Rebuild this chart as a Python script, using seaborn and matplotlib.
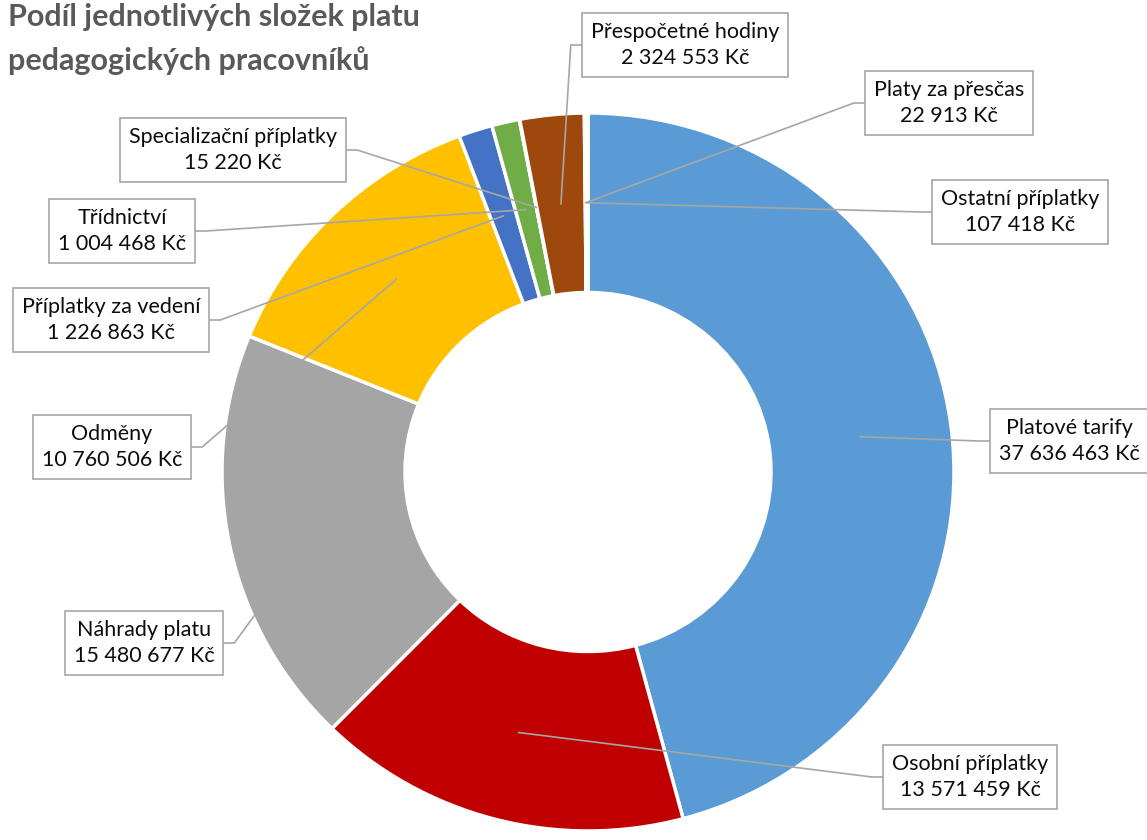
import numpy as np
import matplotlib
matplotlib.use("Agg")
import matplotlib.pyplot as plt
import seaborn as sns

categories = ["Platové tarify", "Osobní příplatky", "Náhrady platu", "Odměny",
              "Příplatky za vedení", "Třídnictví", "Specializační příplatky",
              "Přespočetné hodiny", "Platy za přesčas", "Ostatní příplatky"]
values = [37636463, 13571459, 15480677, 10760506, 1226863,
          1004468, 15220, 2324553, 22913, 107418]
colors = ["#5B9BD5", "#C00000", "#A5A5A5", "#FFC000", "#4472C4",
          "#70AD47", "#255E91", "#9E480E", "#636363", "#997300"]

# label box centres in pixels (x from left, y from top) and side where leader attaches
label_pos = {
    "Platové tarify": (1069, 441, "left"),
    "Osobní příplatky": (970, 777, "left"),
    "Náhrady platu": (144, 643, "right"),
    "Odměny": (112, 447, "right"),
    "Příplatky za vedení": (111, 320, "right"),
    "Třídnictví": (122, 231, "right"),
    "Specializační příplatky": (233, 150, "right"),
    "Přespočetné hodiny": (685, 45, "left"),
    "Platy za přesčas": (949, 103, "left"),
    "Ostatní příplatky": (1020, 212, "left"),
}

sns.set_theme(style="white")
plt.rcParams['font.family'] = ['Lato', 'DejaVu Sans']

W, H = 1147, 840
CX, CY = 588, 472
RX, RY = 366, 359


def to_data(px, py):
    return (px - CX) / RX, (CY - py) / RY


fig = plt.figure(figsize=(W / 100, H / 100), dpi=100)
ax = fig.add_axes([0, 0, 1, 1])
wedges, _ = ax.pie(values, colors=colors, startangle=90, counterclock=False,
                   radius=1, wedgeprops=dict(width=0.5, edgecolor='white', linewidth=2.5))
ax.set_xlim(-CX / RX, (W - CX) / RX)
ax.set_ylim(-(H - CY) / RY, CY / RY)
ax.set_aspect('auto')
ax.axis('off')

texts = []
for cat, val, w in zip(categories, values, wedges):
    cx, cy, side = label_pos[cat]
    x, y = to_data(cx, cy)
    label = f"{cat}\n{val:,}".replace(",", " ") + " Kč"
    t = ax.text(x, y, label, ha='center', va='center', fontsize=15.5,
                color='#0d0d0d', linespacing=1.38, zorder=5,
                bbox=dict(boxstyle='square,pad=0.42', fc='white', ec='#A6A6A6', lw=1.2))
    texts.append((t, w, side))

fig.canvas.draw()
inv = ax.transData.inverted()
for t, w, side in texts:
    bb = t.get_bbox_patch().get_window_extent()
    (x0, y0), (x1, y1) = inv.transform([[bb.x0, bb.y0], [bb.x1, bb.y1]])
    ym = (y0 + y1) / 2
    mid = np.deg2rad((w.theta1 + w.theta2) / 2)
    ex, ey = 0.75 * np.cos(mid), 0.75 * np.sin(mid)
    if side == "left":
        sx = x0
        stub = sx - 0.03
    else:
        sx = x1
        stub = sx + 0.03
    ax.plot([sx, stub, ex], [ym, ym, ey], color='#A6A6A6', lw=1.2, zorder=4,
            solid_joinstyle='miter')

fig.text(0.007, 0.997, "Podíl jednotlivých složek platu\npedagogických pracovníků",
         ha='left', va='top', fontsize=22, fontweight='bold', color='#595959',
         linespacing=1.65)

fig.savefig("out.png", dpi=100)
